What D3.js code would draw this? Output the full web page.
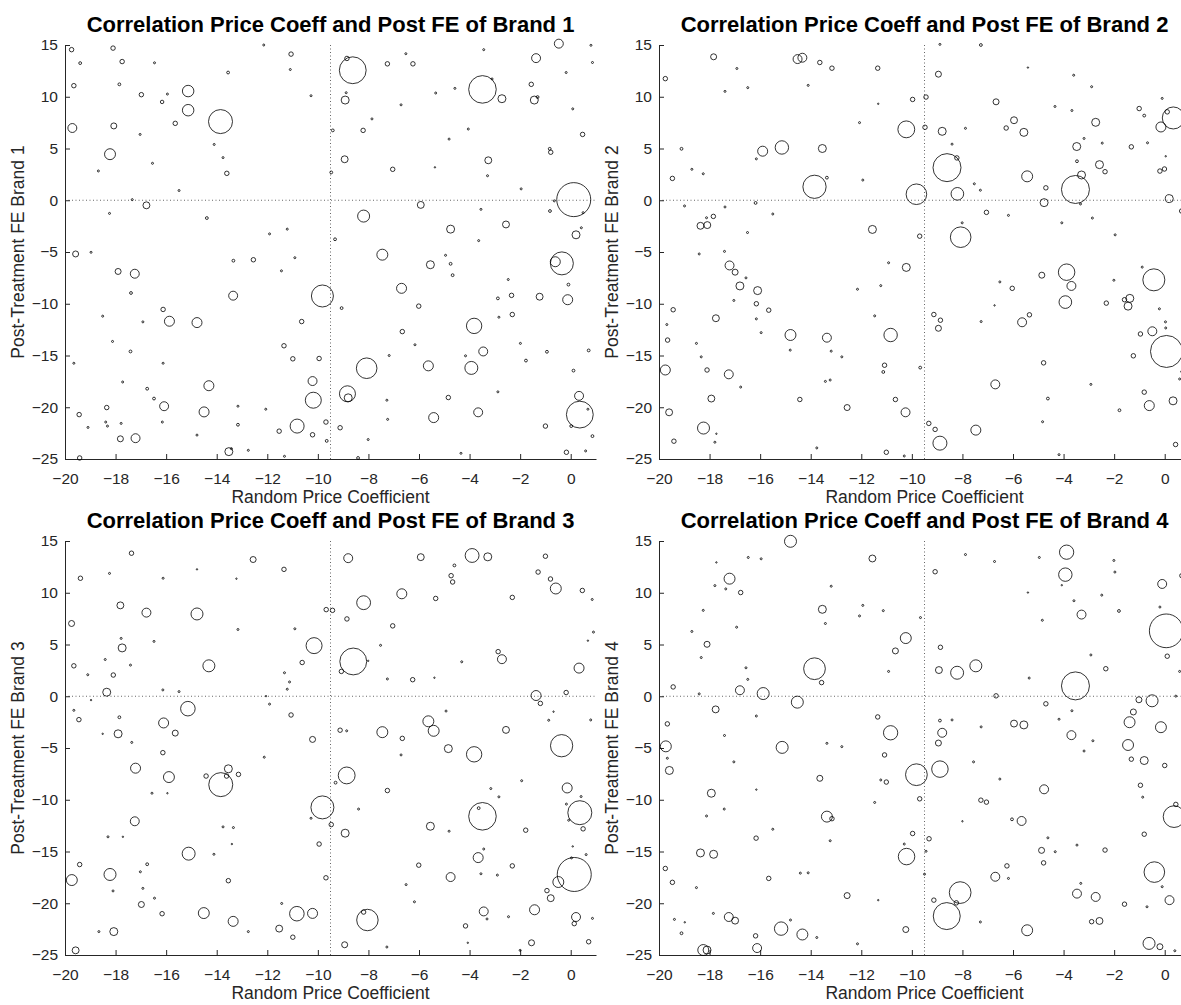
<!DOCTYPE html>
<html>

<head>
    <meta charset="utf-8">
    <style>
        body {
            margin: 0;
            background: white;
        }

        svg {
            display: block;
            font-family: 'Liberation Sans', Arial, Helvetica, sans-serif;
        }

        .title {
            font-size: 22px;
            font-weight: bold;
            fill: #000;
        }

        .axis-label {
            font-size: 17.5px;
            fill: #262626;
        }
    </style>
</head>

<body>
    <svg width="1181" height="1005"></svg>

    <script src="https://d3js.org/d3.v7.min.js"></script>
    <script>
        // ticks and labels
        let xTicks = [-20, -18, -16, -14, -12, -10, -8, -6, -4, -2, 0]
        let yTicks = [-25, -20, -15, -10, -5, 0, 5, 10, 15]
        let brandNames = ["Brand 1", "Brand 2", "Brand 3", "Brand 4"]
        let xLabel = "Random Price Coefficient"
        let refX = -9.5
        let refY = 0

        // [price coefficient, post FE, bubble weight]
        let brand1 = [[-19.74,14.55,5],[-18.1,14.7,5],[-19.4,13.25,2],[-17.74,13.4,5],[-19.65,11.07,5],[-17.85,11.2,2],[-16.46,13.28,1],[-16.98,10.2,5],[-15.13,10.55,33],[-15.95,10.26,1],[-16.16,9.5,3],[-15.13,8.7,33],[-19.71,6.98,20],[-18.07,7.18,9],[-15.64,7.43,5],[-13.85,7.6,144],[-17.03,6.36,1],[-18.22,4.45,30],[-14.1,5.39,1],[-13.75,4.12,1],[-13.6,2.6,5],[-16.54,3.57,1],[-18.68,2.83,1],[-15.49,0.94,1],[-17.34,0.06,1],[-16.78,-0.49,12],[-18.24,-1.27,1],[-14.39,-1.72,2],[-19.58,-5.19,9],[-18.97,-5.03,1],[-17.9,-6.88,9],[-17.24,-7.1,20],[-17.39,-8.96,2],[-13.35,-9.22,20],[-13.34,-5.84,2],[-12.55,-5.75,5],[-11.91,-3.25,1],[-11.21,-2.79,1],[-10.91,-5.55,1],[-11.44,-6.82,1],[-9.82,-9.25,121],[-9.32,-3.77,2],[-9.47,2.69,2],[-10.27,10.1,1],[-11.09,12.63,1],[-11.06,14.12,5],[-12.14,15.0,1],[-13.55,12.34,2],[-16.12,-10.55,5],[-15.87,-11.69,25],[-14.78,-11.82,25],[-16.92,-11.75,1],[-18.51,-11.2,1],[-10.64,-11.72,5],[-18.12,-13.64,1],[-17.41,-14.61,2],[-19.65,-15.75,1],[-16.12,-15.75,1],[-11.34,-14.06,5],[-10.99,-15.32,5],[-9.95,-15.29,5],[-17.72,-17.56,1],[-16.75,-18.21,2],[-14.31,-17.92,25],[-16.48,-19.16,2],[-10.21,-17.47,20],[-10.18,-19.32,64],[-8.83,-18.7,64],[-8.8,-19.09,16],[-8.07,-16.23,106],[-18.35,-20.03,5],[-16.08,-19.9,20],[-14.5,-20.45,25],[-13.16,-19.9,1],[-12.06,-20.19,1],[-19.44,-20.71,5],[-19.09,-21.95,1],[-18.39,-21.43,1],[-18.32,-21.82,1],[-17.78,-21.56,1],[-16.15,-21.43,1],[-17.81,-23.05,9],[-17.21,-22.99,20],[-14.78,-22.69,1],[-13.16,-21.69,2],[-13.52,-24.29,16],[-13.42,-24.0,1],[-12.75,-24.16,1],[-11.32,-24.74,1],[-19.42,-24.9,5],[-11.53,-22.31,5],[-10.82,-21.82,49],[-10.21,-22.66,5],[-9.68,-21.43,5],[-9.65,-23.25,2],[-9.12,-21.98,5],[-8.41,-24.9,2],[-8.01,-23.12,1],[-7.27,-19.32,1],[-7.24,-21.17,1],[-5.42,-21.0,25],[-4.84,-19.06,5],[-4.34,-24.45,1],[-3.66,-20.49,20],[-2.88,-18.51,1],[-1.0,-21.82,5],[-0.17,-24.35,5],[0.02,-21.82,2],[0.36,-20.71,180],[0.68,-20.19,1],[0.86,-22.79,2],[0.59,-24.22,1],[0.33,-18.9,20],[0.11,-16.46,2],[0.71,-14.51,2],[-0.94,-14.64,2],[-1.77,-15.49,2],[-1.99,-13.83,1],[-5.63,-16.0,25],[-3.93,-16.2,42],[-3.46,-14.61,20],[-4.16,-15.03,1],[-6.16,-13.96,1],[-6.66,-12.69,5],[-6.01,-10.23,5],[-3.82,-12.14,59],[-2.84,-11.3,1],[-2.31,-11.04,5],[-2.34,-9.19,5],[-2.88,-9.48,2],[-1.23,-9.32,12],[-0.12,-9.61,25],[-2.47,-7.66,1],[-0.09,-8.15,2],[-6.69,-8.51,25],[-7.18,-15.0,1],[-9.06,-10.42,2],[-7.45,-5.26,30],[-5.55,-6.23,16],[-4.95,-5.32,1],[-4.75,-6.14,2],[-4.67,-7.24,2],[-4.75,-2.79,16],[-3.64,-3.9,1],[-3.55,-0.88,1],[-2.56,-2.34,12],[-5.93,-0.45,12],[-8.19,-1.53,36],[-0.35,-6.1,132],[-0.61,-5.94,25],[0.21,-3.34,16],[0.42,-2.66,1],[0.49,-1.2,1],[-0.82,-1.04,2],[0.12,0.06,289],[-0.65,-0.06,1],[-1.96,1.1,1],[-3.29,2.37,1],[-3.26,3.86,12],[-0.83,4.97,2],[-0.79,4.64,5],[0.47,6.36,5],[0.08,8.83,1],[-0.18,12.34,1],[0.8,14.97,1],[0.86,13.31,1],[-0.47,15.13,20],[-1.37,13.73,20],[-1.56,11.2,5],[-1.44,9.68,16],[-1.31,9.97,2],[-2.72,9.81,16],[-3.49,10.71,190],[-3.11,11.72,1],[-3.44,14.55,1],[-4.58,10.81,1],[-5.34,10.36,1],[-4.81,5.91,1],[-4.05,6.88,1],[-5.37,3.18,0.5],[-7.04,2.99,5],[-7.86,7.86,1],[-8.21,6.75,5],[-9.41,6.75,2],[-8.94,3.96,12],[-8.92,9.68,16],[-8.88,10.39,1],[-8.62,12.56,180],[-8.85,13.7,5],[-7.25,13.18,5],[-6.24,13.18,5],[-6.52,14.16,1],[-6.71,9.22,1]]

        let brand2 = [[-17.84,13.86,9],[-19.75,11.75,5],[-16.92,12.73,1],[-17.39,10.52,1],[-16.49,10.88,1],[-14.52,13.64,20],[-14.33,13.77,20],[-13.64,13.31,5],[-13.16,12.76,5],[-14.1,11.1,1],[-11.35,12.76,5],[-11.33,9.32,0.5],[-9.97,9.74,5],[-9.44,9.97,5],[-8.89,15.06,1],[-7.27,15.0,2],[-8.95,12.18,9],[-5.41,12.82,0.5],[-6.67,9.51,9],[-3.6,12.08,1],[-2.89,10.97,1],[-4.34,9.06,1],[-3.67,8.67,1],[-5.96,7.73,12],[-6.27,6.98,5],[-5.57,6.56,16],[-2.73,7.53,16],[-3.19,5.97,1],[-3.48,5.19,16],[-2.47,5.52,1],[-1.32,5.16,5],[-0.68,5.55,1],[-1.01,8.86,5],[-0.81,8.18,2],[-0.1,9.84,1],[-0.15,7.08,25],[0.1,8.54,5],[0.34,7.95,121],[0.04,4.25,0.5],[-0.19,2.82,5],[-0.01,3.02,5],[0.18,0.16,16],[0.67,-1.04,5],[-2.58,3.44,16],[-2.36,2.76,5],[-3.47,3.77,2],[-3.29,2.44,16],[-3.53,1.04,196],[-3.33,-0.36,1],[-2.86,-1.72,1],[-4.07,-2.18,1],[-4.7,1.2,5],[-4.77,-0.23,16],[-5.44,2.31,30],[-7.05,-1.17,5],[-6.18,-1.46,1],[-7.29,0.97,1],[-7.53,1.59,1],[-8.2,0.62,40],[-8.61,3.15,196],[-8.22,4.09,5],[-8.41,5.42,1],[-7.88,6.95,1],[-8.8,6.66,16],[-9.48,7.05,5],[-10.22,6.85,71],[-9.82,0.58,106],[-8.07,-3.57,106],[-8.01,-2.18,1],[-9.69,-3.47,5],[-10.22,-6.49,16],[-10.92,-6.04,1],[-11.23,-8.25,1],[-12.15,-8.6,1],[-11.56,-2.82,16],[-11.94,1.95,1],[-12.07,7.5,1],[-13.85,1.3,135],[-13.36,2.18,2],[-13.54,5.0,16],[-15.14,5.1,45],[-15.9,4.74,25],[-16.15,4.0,1],[-16.18,-0.26,2],[-15.5,-1.33,1],[-16.5,-3.12,1],[-17.39,-0.65,1],[-17.85,-1.56,5],[-18.12,-1.69,1],[-18.36,-2.47,12],[-18.09,-2.4,12],[-18.25,2.56,1],[-18.7,2.99,1],[-19.47,2.11,5],[-19.11,4.97,2],[-18.99,-0.55,1],[-18.41,-5.19,1],[-17.41,-4.94,1],[-17.21,-6.3,20],[-16.99,-6.95,9],[-16.56,-7.5,1],[-16.8,-8.28,16],[-16.1,-8.73,16],[-16.15,-10.0,5],[-17.04,-9.68,1],[-19.44,-10.58,5],[-19.69,-12.01,1],[-19.66,-13.51,5],[-18.52,-13.83,1],[-17.75,-11.4,12],[-16.15,-11.46,1],[-15.66,-10.62,5],[-15.96,-12.79,1],[-18.33,-15.13,1],[-19.75,-16.4,25],[-18.1,-16.4,5],[-17.24,-16.82,20],[-16.77,-18.05,1],[-17.93,-19.16,12],[-19.6,-20.49,12],[-18.24,-22.01,36],[-17.73,-22.56,0.5],[-17.79,-23.38,1],[-19.41,-23.28,5],[-14.8,-13.02,30],[-14.81,-14.48,1],[-13.36,-13.28,20],[-13.19,-14.58,1],[-13.42,-17.5,1],[-13.23,-17.37,1],[-12.77,-15.13,1],[-14.43,-19.25,5],[-13.76,-23.93,1],[-12.56,-20.03,9],[-11.47,-11.17,1],[-10.84,-13.02,45],[-11.08,-15.94,5],[-11.13,-16.59,2],[-9.67,-16.17,2],[-10.65,-19.25,5],[-10.25,-20.49,20],[-11.01,-24.35,5],[-10.3,-24.71,1],[-9.33,-21.56,5],[-9.08,-22.14,5],[-8.89,-23.47,49],[-7.47,-22.21,25],[-9.13,-11.04,5],[-8.87,-11.59,5],[-8.95,-12.37,9],[-6.7,-17.79,20],[-7.26,-11.72,1],[-6.73,-10.16,0.5],[-6.52,-7.89,1],[-6.03,-8.51,5],[-5.64,-11.79,20],[-5.35,-11.07,5],[-4.86,-7.24,9],[-3.88,-6.95,68],[-3.69,-8.28,20],[-3.93,-9.84,40],[-4.79,-15.71,5],[-4.62,-19.16,2],[-4.83,-21.4,1],[-4.18,-24.58,1],[-2.92,-17.79,1],[-2.31,-9.94,5],[-2.01,-7.73,1],[-1.96,-3.34,1],[-0.89,-6.46,1],[-1.59,-9.61,5],[-1.38,-9.48,16],[-1.45,-10.23,16],[-0.43,-7.69,121],[-0.21,-10.49,1],[0.03,-11.75,1],[0.04,-12.34,1],[-0.96,-12.92,5],[-0.49,-12.66,20],[0.07,-14.61,256],[-1.24,-15.03,5],[0.67,-16.56,1],[0.59,-17.27,1],[-0.81,-18.54,5],[-0.61,-19.84,25],[0.33,-19.38,16],[-1.79,-20.29,2],[0.43,-23.6,5]]

        let brand3 = [[-17.37,13.82,5],[-19.39,11.4,5],[-18.24,11.87,1],[-16.12,11.4,1],[-17.81,8.78,12],[-16.78,8.08,20],[-14.78,7.95,36],[-14.78,12.26,0.5],[-12.56,13.21,9],[-11.34,12.26,5],[-13.22,11.36,0.5],[-13.16,6.45,1],[-10.91,6.52,1],[-19.74,7.03,9],[-19.65,2.94,5],[-19.1,2.08,1],[-17.78,5.59,1],[-17.74,4.67,16],[-16.48,5.3,1],[-18.41,3.55,1],[-18.09,2.05,5],[-17.41,3.01,1],[-14.31,2.94,36],[-18.35,0.39,16],[-16.13,0.61,1],[-15.49,0.45,1],[-18.97,-0.37,0.5],[-19.65,-1.36,1],[-19.45,-2.26,5],[-17.85,-2.03,2],[-17.9,-3.63,16],[-18.51,-3.63,0.5],[-17.36,-4.46,1],[-16.1,-2.58,25],[-15.64,-3.56,9],[-15.14,-1.2,53],[-16.13,-5.45,5],[-17.21,-6.95,25],[-15.89,-7.81,30],[-16.56,-9.37,1],[-15.95,-9.37,0.5],[-14.42,-7.71,5],[-13.84,-8.54,144],[-13.54,-7.01,16],[-13.61,-7.71,5],[-13.14,-7.55,5],[-17.24,-12.08,20],[-18.3,-13.58,1],[-17.71,-13.58,0.5],[-13.75,-12.62,1],[-13.34,-12.69,1],[-13.4,-14.28,0.5],[-14.11,-15.27,1],[-15.11,-15.21,42],[-19.42,-16.26,5],[-19.73,-17.76,30],[-18.22,-17.22,36],[-16.75,-16.23,2],[-17.02,-16.96,1],[-16.92,-18.56,1],[-18.1,-18.81,1],[-16.46,-19.51,1],[-16.98,-20.12,9],[-16.16,-21.01,5],[-18.66,-22.74,1],[-18.07,-22.74,16],[-19.58,-24.55,12],[-14.51,-20.95,30],[-13.54,-17.82,5],[-13.35,-21.75,25],[-12.75,-22.74,1],[-11.53,-22.45,12],[-11.43,-20.02,1],[-10.99,-23.28,5],[-10.83,-21.01,53],[-10.21,-20.98,25],[-8.19,-20.85,5],[-8.04,-21.62,115],[-8.94,-24.01,9],[-7.27,-24.23,1],[-9.68,-17.54,5],[-9.95,-14.28,5],[-9.47,-12.4,5],[-8.92,-13.23,16],[-10.27,-11.79,1],[-9.82,-10.74,132],[-8.39,-10.9,1],[-9.3,-8.35,2],[-8.86,-7.65,71],[-12.12,-5.89,1],[-10.21,-4.17,9],[-11.06,-1.81,5],[-11.91,-0.76,1],[-12.05,0.01,0.5],[-11.21,0.68,1],[-11.12,1.38,1],[-11.32,2.27,1],[-10.62,3.26,5],[-10.15,4.89,64],[-9.67,8.37,5],[-9.42,8.3,5],[-8.85,7.47,5],[-8.8,13.34,20],[-8.19,9.04,48],[-8.6,3.36,180],[-9.07,2.4,5],[-8.01,3.42,0.5],[-9.12,-3.28,5],[-8.86,-3.34,1],[-7.25,1.67,1],[-7.52,4.92,1],[-7.04,6.8,5],[-6.68,9.9,25],[-5.93,13.44,12],[-5.34,9.45,5],[-6.25,1.6,5],[-5.39,1.79,0.5],[-7.45,-3.47,30],[-6.66,-4.07,5],[-6.71,-5.67,1],[-5.63,-2.42,30],[-5.42,-3.34,30],[-7.25,-9.11,5],[-5.55,-12.56,16],[-6.01,-16.32,5],[-6.51,-18.2,1],[-6.18,-19.86,1],[-4.81,-13.04,1],[-4.93,-1.43,1],[-4.84,-5.06,16],[-3.82,-5.61,59],[-4.75,-17.47,20],[-4.16,-22.19,5],[-4.07,-23.82,0.5],[-3.66,-15.59,25],[-3.55,-17.15,1],[-3.44,-14.76,1],[-3.49,-11.6,190],[-3.64,-10.81,2],[-3.16,-8.92,1],[-2.84,-9.72,1],[-2.9,-17.28,1],[-3.44,-20.79,20],[-3.31,-21.52,1],[-2.46,-21.3,1],[-2.31,-16.39,5],[-1.78,-12.94,5],[-1.94,-8.16,1],[-2.0,-24.55,1],[-1.55,-23.82,9],[-1.43,-20.63,25],[-0.94,-18.78,5],[-0.79,-19.51,12],[-0.49,-17.95,30],[0.14,-17.22,289],[0.03,-15.62,1],[0.08,-14.51,0.5],[0.61,-15.3,1],[0.21,-21.33,20],[0.14,-21.97,5],[0.86,-21.46,1],[0.71,-23.72,5],[0.36,-11.25,144],[-0.08,-11.98,1],[0.49,-12.81,5],[-0.17,-10.42,1],[0.41,-9.69,1],[-0.14,-8.86,25],[-0.36,-4.78,124],[-1.2,-0.69,5],[-1.37,0.07,25],[-0.87,-2.32,1],[-0.68,-1.49,0.5],[0.79,-2.29,1],[-0.18,0.36,5],[0.33,2.72,25],[0.68,5.37,0.5],[0.9,6.2,1],[0.46,10.22,5],[0.85,9.35,1],[-0.59,10.41,30],[-0.8,11.33,5],[-1.29,12.0,5],[-1.0,13.53,5],[-2.31,9.55,5],[-3.28,13.47,16],[-3.9,13.6,48],[-4.6,12.64,2],[-4.73,11.65,5],[-4.67,11.04,5],[-4.31,3.33,1],[-2.87,4.31,5],[-2.72,3.58,20],[-2.56,-3.25,12]]

        let brand4 = [[-14.8,14.97,36],[-16.47,13.41,1],[-15.96,13.28,1],[-17.73,12.93,0.5],[-17.21,11.36,30],[-17.79,10.69,1],[-17.36,10.37,1],[-16.77,10.02,5],[-18.25,8.3,1],[-16.93,6.67,1],[-18.7,6.26,1],[-18.1,5.02,9],[-18.33,3.74,1],[-16.56,2.75,1],[-16.49,1.63,1],[-19.44,0.9,5],[-18.41,0.23,1],[-16.8,0.58,20],[-15.88,0.26,36],[-14.53,-0.57,36],[-17.76,-1.27,12],[-19.67,-2.67,5],[-17.41,-3.79,1],[-16.15,-1.91,1],[-19.73,-4.84,30],[-19.67,-5.99,1],[-19.59,-7.17,16],[-17.04,-6.34,1],[-17.93,-9.37,16],[-17.42,-10.9,1],[-18.12,-11.57,1],[-16.15,-9.02,0.5],[-15.13,-4.94,36],[-15.5,-12.85,1],[-16.16,-13.71,5],[-18.36,-15.14,16],[-17.84,-15.27,16],[-19.75,-16.64,5],[-19.47,-17.98,5],[-15.66,-17.6,5],[-18.52,-18.49,1],[-17.85,-20.98,1],[-17.24,-21.33,20],[-16.99,-21.68,12],[-19.39,-21.56,1],[-18.98,-21.84,0.5],[-19.11,-22.9,2],[-18.25,-24.52,30],[-18.1,-24.52,16],[-16.18,-23.15,5],[-16.12,-24.33,20],[-15.17,-22.45,45],[-14.8,-21.62,1],[-14.33,-23.02,30],[-13.76,-23.31,1],[-14.41,-17.09,1],[-14.1,-17.06,1],[-12.56,-19.26,9],[-11.33,-19.7,0.5],[-12.15,-23.92,1],[-10.24,-22.54,9],[-10.21,-15.49,68],[-10.3,-14.28,1],[-9.97,-13.26,5],[-9.32,-13.77,5],[-9.44,-14.98,1],[-9.5,-17.19,1],[-9.13,-19.7,5],[-8.62,-21.24,182],[-8.24,-19.96,5],[-8.09,-18.97,118],[-7.29,-21.81,1],[-5.44,-22.61,30],[-6.7,-17.44,20],[-6.18,-17.6,1],[-6.24,-16.39,5],[-8.0,-12.08,0.5],[-6.04,-11.89,2],[-5.66,-12.05,20],[-4.62,-13.68,1],[-4.87,-14.89,9],[-4.33,-15.02,1],[-4.79,-16.1,5],[-3.47,-14.38,1],[-3.47,-19.07,20],[-3.32,-18.08,1],[-2.73,-19.39,20],[-2.89,-21.78,5],[-2.58,-21.71,12],[-2.36,-14.86,5],[-1.59,-20.09,5],[-0.7,-20.34,1],[-0.62,-23.88,36],[-0.19,-24.2,9],[0.4,-24.59,1],[0.19,-19.7,20],[-0.41,-16.99,106],[-0.1,-18.4,1],[-0.81,-13.33,5],[0.37,-11.63,118],[0.44,-10.45,5],[-0.87,-9.75,1],[-0.96,-8.6,5],[-0.81,-6.21,16],[-1.32,-6.08,5],[0.0,-6.69,5],[-1.45,-4.71,30],[-1.39,-2.51,30],[-1.24,-1.52,9],[-1.02,-0.34,9],[-0.5,-0.44,36],[-0.15,-2.99,30],[0.44,0.01,1],[0.1,3.87,5],[0.59,2.4,1],[0.06,6.32,284],[-0.19,8.62,1],[-0.1,10.85,20],[0.68,11.65,5],[-1.97,12.0,1],[-2.01,13.12,1],[-1.81,8.24,2],[-2.49,9.77,1],[-2.33,2.66,5],[-2.92,3.99,1],[-3.29,7.89,20],[-3.59,9.23,1],[-3.88,13.92,51],[-3.93,11.75,45],[-4.07,10.73,0.5],[-4.96,13.41,1],[-5.41,10.02,0.5],[-4.84,7.34,1],[-5.36,1.76,1],[-3.53,1.0,196],[-3.67,-1.4,1],[-4.18,-2.22,1],[-4.7,-0.73,5],[-3.69,-3.76,20],[-2.84,-4.3,1],[-3.19,-5.29,1],[-4.77,-8.99,20],[-5.96,-2.64,12],[-5.57,-2.77,16],[-6.67,0.04,5],[-6.73,13.02,1],[-7.88,13.69,1],[-7.26,-2.96,1],[-7.56,-6.34,1],[-6.52,-8.0,1],[-7.27,-10.04,5],[-7.05,-10.23,5],[-7.47,2.94,36],[-8.21,2.27,42],[-8.41,-2.29,1],[-8.89,-2.35,2],[-8.8,-3.53,20],[-8.95,-4.52,9],[-8.89,-7.04,68],[-8.93,2.53,12],[-8.87,4.73,5],[-9.08,12.03,5],[-9.66,7.6,1],[-9.82,-7.58,118],[-9.69,-9.91,5],[-10.84,-3.53,51],[-10.92,2.4,1],[-10.65,4.38,9],[-10.24,5.62,30],[-11.13,8.27,1],[-11.94,8.78,1],[-12.07,7.76,1],[-11.56,13.31,12],[-13.19,10.63,1],[-13.54,8.4,16],[-13.42,7.03,1],[-13.85,2.66,118],[-13.57,1.32,5],[-11.35,-2.0,5],[-13.36,-4.55,1],[-12.77,-4.87,1],[-11.08,-5.67,5],[-13.64,-7.93,9],[-11.23,-8.09,1],[-11.01,-8.29,5],[-11.47,-10.26,1],[-13.36,-11.63,30],[-13.16,-11.83,5],[-13.23,-13.96,1]]

        let allBrands = [brand1, brand2, brand3, brand4]

        let width = 531;
        let height = 414;
        let lefts = [65, 659, 65, 659];
        let tops = [45, 45, 541, 541];

        let svg = d3.select("svg")

        let x = d3.scaleLinear().domain([-20, 1]).range([0, width])
        let y = d3.scaleLinear().domain([-25, 15]).range([height, 0])
        let r = d3.scaleSqrt().domain([0, 289]).range([0, 17])

        allBrands.forEach((data, i) => {
            let g = svg.append("g")
                .attr("transform", "translate(" + lefts[i] + "," + tops[i] + ")")

            // reference lines
            g.append("line")
                .attr("x1", 0).attr("x2", width)
                .attr("y1", y(refY)).attr("y2", y(refY))
                .style("stroke", "#555")
                .style("stroke-width", 0.9)
                .style("stroke-dasharray", "1,2.5")

            g.append("line")
                .attr("x1", x(refX)).attr("x2", x(refX))
                .attr("y1", 0).attr("y2", height)
                .style("stroke", "#555")
                .style("stroke-width", 0.9)
                .style("stroke-dasharray", "1,2.5")

            // axes, ticks pointing in
            let xAxis = g.append("g")
                .attr("transform", "translate(0," + height + ")")
                .call(d3.axisBottom(x).tickValues(xTicks).tickSizeInner(-5).tickSizeOuter(0).tickPadding(14))

            let yAxis = g.append("g")
                .call(d3.axisLeft(y).tickValues(yTicks).tickSizeInner(-5).tickSizeOuter(0).tickPadding(7))

            svg.selectAll(".domain, .tick line")
                .style("stroke", "#262626")
                .style("stroke-width", 1)

            g.selectAll(".tick text")
                .attr("font-family", null)
                .style("font-size", "15.5px")
                .style("fill", "#262626")

            // bubbles
            g.selectAll(".bubble")
                .data(data)
                .join("circle")
                .attr("class", "bubble")
                .attr("cx", d => x(d[0]))
                .attr("cy", d => y(d[1]))
                .attr("r", d => r(d[2]))
                .style("fill", "none")
                .style("stroke", "black")
                .style("stroke-width", 0.8)

            // texts
            g.append("text")
                .attr("class", "title")
                .attr("x", width / 2)
                .attr("y", -13)
                .attr("text-anchor", "middle")
                .text("Correlation Price Coeff and Post FE of " + brandNames[i])

            g.append("text")
                .attr("class", "axis-label")
                .attr("x", x(-9.5))
                .attr("y", height + 44)
                .attr("text-anchor", "middle")
                .text(xLabel)

            g.append("text")
                .attr("class", "axis-label")
                .attr("transform", "translate(-41," + (height / 2) + ") rotate(-90)")
                .attr("text-anchor", "middle")
                .text("Post-Treatment FE " + brandNames[i])
        })
    </script>
</body>

</html>
